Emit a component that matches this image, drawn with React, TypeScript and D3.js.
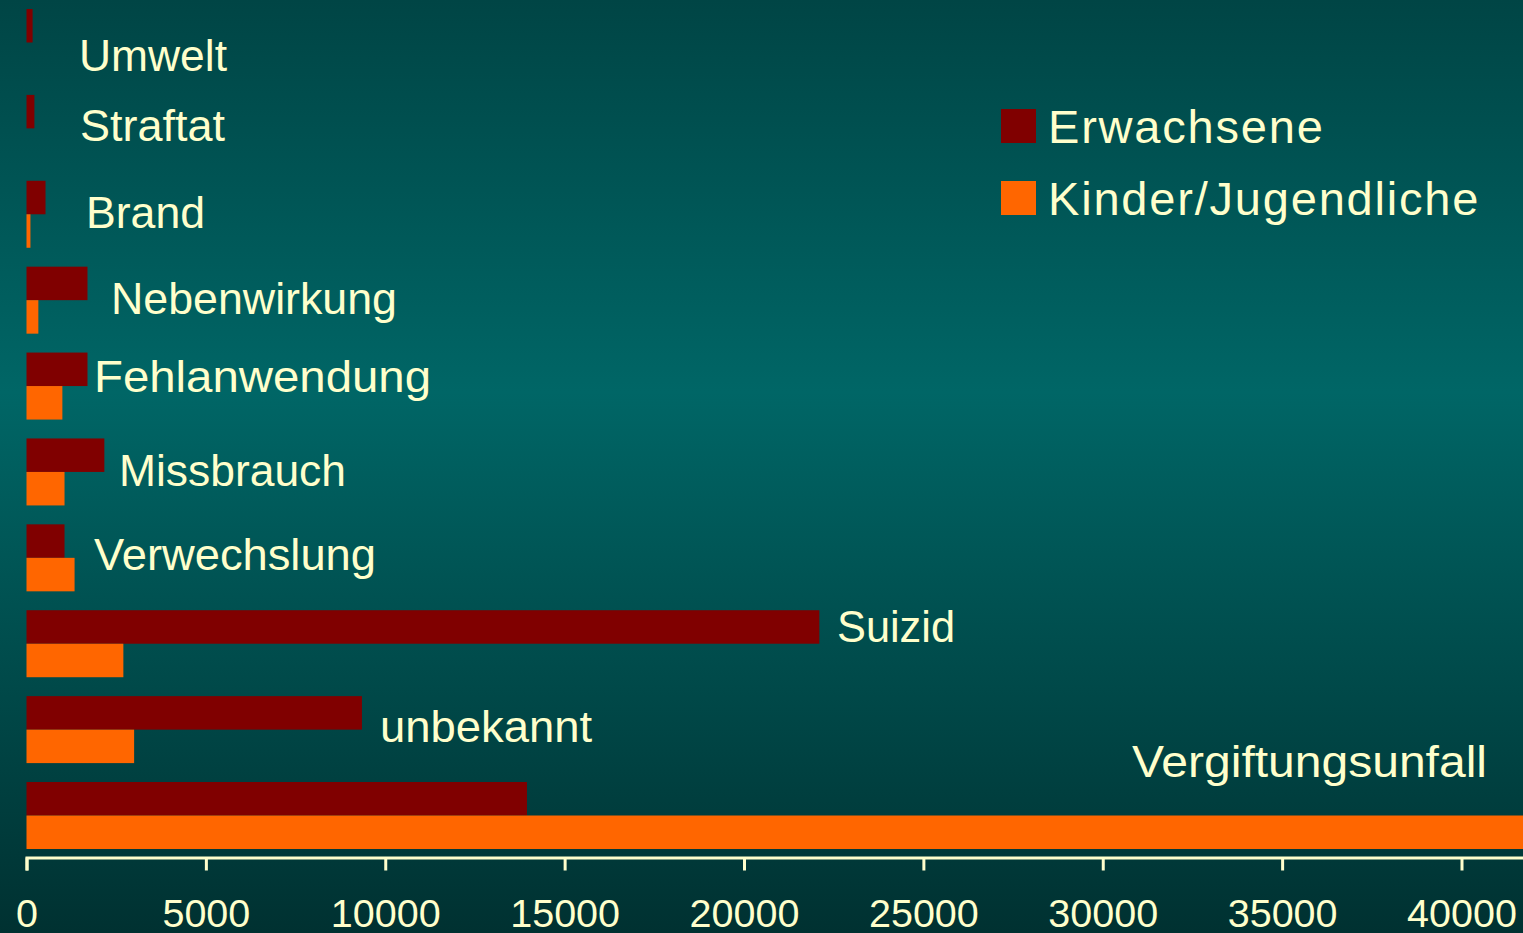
import React, {useRef, useEffect} from 'react'
import * as d3 from 'd3'

// categories top -> bottom
const categories = [
  'Umwelt',
  'Straftat',
  'Brand',
  'Nebenwirkung',
  'Fehlanwendung',
  'Missbrauch',
  'Verwechslung',
  'Suizid',
  'unbekannt',
  'Vergiftungsunfall'
]
const seriesNames = ['Erwachsene', 'Kinder/Jugendliche']
const erwachsene = [170, 220, 530, 1700, 1700, 2170, 1060, 22100, 9350, 13950]
const kinder = [0, 0, 110, 330, 1000, 1060, 1340, 2700, 3000, 44000]
const tickValues = [0, 5000, 10000, 15000, 20000, 25000, 30000, 35000, 40000]

// hand placed labels (as in the original slide): x, baseline offset from group top, width
const labelLayout = [
  {x: 79, dy: 62, w: 148},
  {x: 80, dy: 46, w: 145},
  {x: 86, dy: 47, w: 119},
  {x: 111, dy: 47, w: 286},
  {x: 94, dy: 39, w: 337},
  {x: 119, dy: 47.5, w: 227},
  {x: 94, dy: 46, w: 282},
  {x: 837, dy: 32, w: 118},
  {x: 380, dy: 46, w: 212},
  {x: 1132, dy: -5, w: 355}
]

const W = 1523
const H = 933
const colors = ['#800000', '#ff6600']
const textColor = '#ffffcc'
const font = '"Liberation Sans", Arial, sans-serif'

function App() {
  const svgRef = useRef(null)

  useEffect(() => {
    const svg = d3.select(svgRef.current)
    svg.selectAll('*').remove()

    const defs = svg.append('defs')
    const grad = defs
      .append('linearGradient')
      .attr('id', 'bg')
      .attr('x1', 0)
      .attr('y1', 0)
      .attr('x2', 0)
      .attr('y2', 1)
    grad.append('stop').attr('offset', '0').attr('stop-color', '#004545')
    grad.append('stop').attr('offset', '0.42').attr('stop-color', '#006666')
    grad.append('stop').attr('offset', '1').attr('stop-color', '#003131')
    svg.append('rect').attr('width', W).attr('height', H).attr('fill', 'url(#bg)')

    const x0 = 26.5
    const perUnit = (1461.5 - x0) / 40000
    const xScale = d3
      .scaleLinear()
      .domain([0, 42000])
      .range([x0, x0 + 42000 * perUnit])

    const yScale = d3
      .scaleBand()
      .domain(categories)
      .range([9, 849])
      .paddingInner(0.22)
      .paddingOuter(0)

    const ySub = d3
      .scaleBand()
      .domain(seriesNames)
      .range([0, yScale.bandwidth()])

    const rows = categories.map((c, i) => ({
      name: c,
      values: [erwachsene[i], kinder[i]]
    }))

    const groups = svg
      .append('g')
      .selectAll('g')
      .data(rows)
      .join('g')
      .attr('transform', d => `translate(0,${yScale(d.name)})`)

    groups
      .selectAll('rect')
      .data(d => d.values.map((v, j) => ({key: seriesNames[j], v, j})))
      .join('rect')
      .attr('x', xScale(0))
      .attr('y', d => ySub(d.key))
      .attr('height', ySub.bandwidth())
      .attr('width', d => xScale(d.v) - xScale(0))
      .attr('fill', d => colors[d.j])

    groups
      .append('text')
      .attr('x', (d, i) => labelLayout[i].x)
      .attr('y', (d, i) => labelLayout[i].dy)
      .attr('textLength', (d, i) => labelLayout[i].w)
      .attr('lengthAdjust', 'spacingAndGlyphs')
      .attr('font-family', font)
      .attr('font-size', 45)
      .attr('fill', textColor)
      .text(d => d.name)

    // x axis
    const xAxis = d3
      .axisBottom(xScale)
      .tickValues(tickValues)
      .tickSize(13)
      .tickSizeOuter(13)
      .tickFormat(d3.format('d'))
    const ax = svg
      .append('g')
      .attr('transform', 'translate(0,857.5)')
      .call(xAxis)
    ax.select('.domain').attr('stroke', textColor).attr('stroke-width', 3)
    ax.selectAll('.tick line').attr('stroke', textColor).attr('stroke-width', 3)
    ax
      .selectAll('.tick text')
      .attr('fill', textColor)
      .attr('font-family', font)
      .attr('font-size', 39.5)
      .attr('y', 69.5)
      .attr('dy', 0)

    // legend
    const legend = svg
      .append('g')
      .selectAll('g')
      .data(seriesNames)
      .join('g')
      .attr('transform', (d, i) => `translate(1001,${109 + i * 72})`)
    legend
      .append('rect')
      .attr('width', 35)
      .attr('height', 34)
      .attr('fill', (d, i) => colors[i])
    legend
      .append('text')
      .attr('x', 47)
      .attr('y', 34)
      .attr('font-family', font)
      .attr('font-size', 47)
      .attr('letter-spacing', 1.8)
      .attr('fill', textColor)
      .text(d => d)
  }, [])

  return (
    <svg
      ref={svgRef}
      width={W}
      height={H}
      style={{position: 'absolute', left: 0, top: 0, display: 'block'}}
    />
  )
}

export default App
